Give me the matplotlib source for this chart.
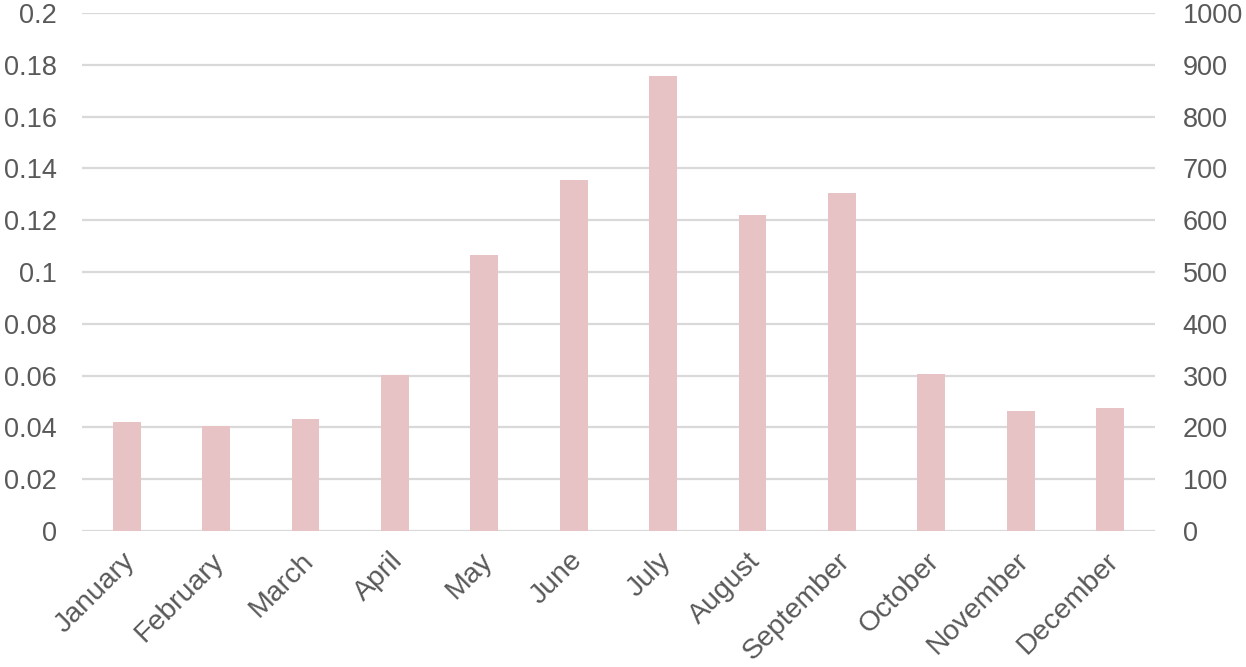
import matplotlib
matplotlib.use("Agg")
import matplotlib.pyplot as plt
import matplotlib.transforms as mtransforms
import numpy as np

months = ['January', 'February', 'March', 'April', 'May', 'June', 'July',
          'August', 'September', 'October', 'November', 'December']
values = [0.042, 0.0405, 0.0432, 0.0602, 0.1066, 0.1355, 0.1757,
          0.122, 0.1305, 0.0606, 0.0463, 0.0475]
left_ticks = [0, 0.02, 0.04, 0.06, 0.08, 0.1, 0.12, 0.14, 0.16, 0.18, 0.2]
right_ticks = [0, 100, 200, 300, 400, 500, 600, 700, 800, 900, 1000]

plt.rcParams['font.family'] = ['Liberation Sans', 'DejaVu Sans']
text_col = '#595959'
grid_col = '#d9d9d9'

fig = plt.figure(figsize=(12.46, 6.67), dpi=100)
ax = fig.add_axes([0.0658, 0.204, 0.861, 0.7765])

x = np.arange(len(months))
ax.bar(x, values, width=0.31, color='#e8c3c6', zorder=3)

ax.set_xlim(-0.5, len(months) - 0.5)
ax.set_ylim(0, 0.2)
ax.set_yticks(left_ticks)
ax.set_yticklabels([f'{t:g}' for t in left_ticks])
ax.grid(axis='y', color=grid_col, linewidth=1.6, zorder=0)
ax.set_xticks(x)
ax.set_xticklabels(months, rotation=45, ha='right', rotation_mode='anchor')

ax2 = ax.twinx()
ax2.set_ylim(0, 1000)
ax2.set_yticks(right_ticks)

for a in (ax, ax2):
    for s in a.spines.values():
        s.set_visible(False)
    a.tick_params(length=0, labelsize=19.5, colors=text_col)
ax.tick_params(axis='y', pad=18)
ax2.tick_params(axis='y', pad=20)
ax.tick_params(axis='x', pad=12, labelsize=20.5)

# nudge month labels a little left
shift = mtransforms.ScaledTranslation(-5 / 100, 0, fig.dpi_scale_trans)
for lbl in ax.get_xticklabels():
    lbl.set_transform(lbl.get_transform() + shift)

fig.savefig('out.png', dpi=100)
